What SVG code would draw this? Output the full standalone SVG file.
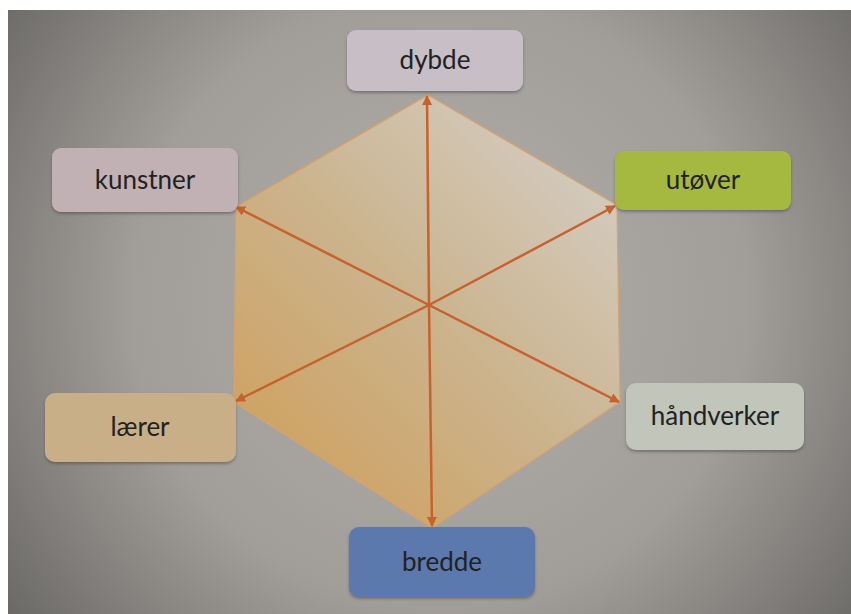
<svg xmlns="http://www.w3.org/2000/svg" width="851" height="614" viewBox="0 0 851 614">
  <defs>
    <radialGradient id="bg" cx="440" cy="300" r="560" gradientUnits="userSpaceOnUse">
      <stop offset="0" stop-color="#b2afab"/>
      <stop offset="0.55" stop-color="#a19e9a"/>
      <stop offset="1" stop-color="#656360"/>
    </radialGradient>
    <linearGradient id="hex" x1="610" y1="140" x2="250" y2="500" gradientUnits="userSpaceOnUse">
      <stop offset="0" stop-color="#d4cec5"/>
      <stop offset="0.5" stop-color="#cbb38c"/>
      <stop offset="1" stop-color="#cf9f5a"/>
    </linearGradient>
    <marker id="ah" viewBox="0 0 10 10" refX="9" refY="5" markerWidth="4" markerHeight="4" orient="auto">
      <path d="M0,0 L10,5 L0,10 z" fill="#c7622e"/>
    </marker>
    <filter id="sh" x="-10%" y="-10%" width="120%" height="140%">
      <feDropShadow dx="0" dy="2" stdDeviation="1.5" flood-color="#3a3a3a" flood-opacity="0.45"/>
    </filter>
    <style>
      .node rect { filter: url(#sh); }
      .node text { font-family: Lato, "Open Sans", "Noto Sans", sans-serif; font-size: 26px; fill: #222; text-anchor: middle; dominant-baseline: central; }
      .edge { stroke: #c7622e; stroke-width: 2.5; fill: none; marker-end: url(#ah); }
    </style>
  </defs>
  <rect x="0" y="0" width="851" height="614" fill="#ffffff"/>
  <rect x="8" y="10" width="843" height="604" fill="url(#bg)"/>

  <polygon id="hexagon" points="428,95 617,205 620,402 432,528 234,402 236,207" fill="url(#hex)" stroke="#d9a26a" stroke-width="1.2"/>

  <g id="connectors">
    <line class="edge" x1="429" y1="305" x2="427" y2="96"/>
    <line class="edge" x1="429" y1="305" x2="236" y2="207"/>
    <line class="edge" x1="429" y1="305" x2="615" y2="206"/>
    <line class="edge" x1="429" y1="305" x2="619" y2="402"/>
    <line class="edge" x1="429" y1="305" x2="236" y2="401"/>
    <line class="edge" x1="429" y1="305" x2="432" y2="526"/>
  </g>

  <g id="node-dybde" class="node">
    <rect x="347" y="30" width="176" height="61" rx="9" fill="#c7bec6"/>
    <text x="435" y="59">dybde</text>
  </g>
  <g id="node-kunstner" class="node">
    <rect x="52" y="148" width="186" height="64" rx="9" fill="#c2b1b4"/>
    <text x="145" y="179">kunstner</text>
  </g>
  <g id="node-utover" class="node">
    <rect x="615" y="151" width="176" height="59" rx="9" fill="#a5b83f"/>
    <text x="703" y="179">utøver</text>
  </g>
  <g id="node-laerer" class="node">
    <rect x="45" y="393" width="191" height="69" rx="10" fill="#c8af88"/>
    <text x="140" y="426">lærer</text>
  </g>
  <g id="node-handverker" class="node">
    <rect x="626" y="383" width="178" height="67" rx="10" fill="#c2c6ba"/>
    <text x="715" y="415">håndverker</text>
  </g>
  <g id="node-bredde" class="node">
    <rect x="349" y="527" width="186" height="70" rx="10" fill="#5b79ae"/>
    <text x="442" y="561">bredde</text>
  </g>
</svg>
